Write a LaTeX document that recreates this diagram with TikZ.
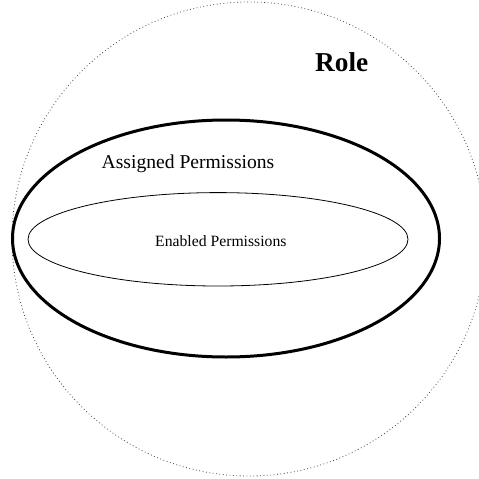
\documentclass[tikz,border=0pt]{standalone}
\usepackage{fontspec}
\setmainfont{Liberation Serif}
\begin{document}
\begin{tikzpicture}[x=1pt,y=-1pt,
  rolecircle/.style={draw=black!75,line width=0.8pt,dash pattern=on 0.8pt off 2.6pt},
  assignedset/.style={draw=black,line width=3pt},
  enabledset/.style={draw=black,line width=0.8pt},
  label/.style={inner sep=0pt,anchor=base west}]
  \useasboundingbox (0,0) rectangle (479,479);
  \begin{scope}
    \clip (0,0) rectangle (479,479);
    % role boundary
    \draw[rolecircle] (249,239) circle [radius=237];
  \end{scope}
  % assigned permissions
  \draw[assignedset] (226,238.5) ellipse [x radius=213.5, y radius=118.5];
  % enabled permissions
  \draw[enabledset] (218,239.3) ellipse [x radius=190, y radius=46.7];
  % labels
  \node[label,font=\fontsize{27.3}{30}\selectfont\bfseries] (role) at (315,71.7) {Role};
  \node[label,font=\fontsize{19.6}{22}\selectfont] (assigned) at (101.5,168.3) {Assigned Permissions};
  \node[label,font=\fontsize{15.7}{18}\selectfont] (enabled) at (155,246) {Enabled Permissions};
\end{tikzpicture}
\end{document}
